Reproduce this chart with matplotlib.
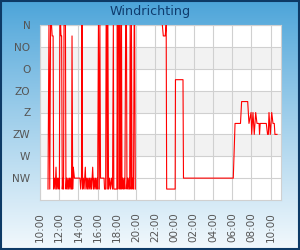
import numpy as np
import matplotlib
matplotlib.use("Agg")
import matplotlib.pyplot as plt
from matplotlib.patches import Rectangle

# minuten na 10:00, richting in graden (0 = N, 22.5-stappen)
minuten = [
    50, 56, 61, 66, 72, 76, 82, 85, 90, 95, 100, 104, 109, 113, 117, 121,
    124, 129, 131, 135, 139, 144, 147, 150, 159, 162, 166, 170, 175, 179,
    184, 188, 192, 197, 200, 204, 208, 215, 250, 254, 259, 262, 266, 270,
    275, 279, 283, 287, 292, 296, 300, 305, 309, 313, 318, 322, 329, 334,
    338, 343, 347, 352, 356, 360, 365, 370, 374, 378, 400, 403, 410, 413,
    417, 420, 424, 428, 434, 440, 446, 453, 458, 461, 480, 483, 486, 489,
    495, 498, 501, 505, 509, 512, 516, 521, 525, 530, 535, 540, 543, 547,
    551, 556, 560, 563, 568, 571, 575, 579, 584, 588, 591, 595,
    600,
    764, 770, 782, 788, 791, 844, 846, 893, 896, 1207, 1218, 1252, 1259,
    1297, 1305, 1318, 1322, 1330, 1338, 1347, 1355, 1368, 1371, 1375, 1413,
    1421, 1426, 1430, 1438, 1447, 1455, 1463, 1467, 1480,
]
richting = [
    337.5, 0, 337.5, 0, 0, 22.5, 22.5, 337.5, 315, 337.5, 292.5, 337.5, 315, 337.5, 315, 337.5,
    0, 0, 22.5, 22.5, 337.5, 315, 337.5, 0, 0, 337.5, 315, 337.5, 315, 337.5,
    315, 337.5, 315, 337.5, 22.5, 337.5, 292.5, 315, 315, 337.5, 315, 0, 337.5, 315,
    337.5, 315, 292.5, 337.5, 315, 337.5, 315, 337.5, 315, 337.5, 315, 337.5, 292.5, 337.5,
    315, 337.5, 315, 337.5, 315, 337.5, 0, 337.5, 0, 315, 315, 337.5, 337.5, 0,
    0, 337.5, 0, 337.5, 315, 337.5, 315, 337.5, 0, 337.5, 337.5, 0, 337.5, 0,
    0, 337.5, 0, 337.5, 0, 337.5, 315, 337.5, 315, 337.5, 0, 0, 337.5, 315,
    337.5, 315, 337.5, 0, 337.5, 0, 337.5, 315, 337.5, 0, 0, 337.5,
    np.nan,
    0, 22.5, 22.5, 0, 337.5, 337.5, 112.5, 112.5, 315, 315, 202.5, 202.5, 157.5,
    157.5, 202.5, 180, 225, 180, 225, 180, 202.5, 202.5, 225, 202.5, 202.5,
    225, 225, 180, 225, 180, 202.5, 202.5, 225, 225,
]

tick_minuten = list(range(0, 1441, 120))
tick_labels = ["10:00", "12:00", "14:00", "16:00", "18:00", "20:00", "22:00",
               "00:00", "02:00", "04:00", "06:00", "08:00", "10:00"]
windstreken = [0, 45, 90, 135, 180, 225, 270, 315]
windstreek_labels = ["N", "NO", "O", "ZO", "Z", "ZW", "W", "NW"]

fig = plt.figure(figsize=(3.0, 2.5), dpi=100)

# achtergrond met verloop
bg = fig.add_axes([0, 0, 1, 1], zorder=-10)
grad = np.linspace(0, 1, 256).reshape(-1, 1)
top = np.array([0.29, 0.64, 0.85])
bot = np.array([0.95, 0.975, 0.99])
img = top + (bot - top) * grad[..., None] ** 0.9
bg.imshow(img.reshape(256, 1, 3), aspect="auto", extent=[0, 1, 0, 1])
bg.set_axis_off()
fig.patches.append(Rectangle((0.003, 0.004), 0.994, 0.992, transform=fig.transFigure,
                             fill=False, edgecolor="#0d3a66", linewidth=1.5))

ax = fig.add_axes([40 / 300, 50 / 250, 241 / 300, 175 / 250])
ax.set_facecolor("white")
for a, b in [(45, 90), (135, 180), (225, 270)]:
    ax.axhspan(a, b, color="#f2f2f2", zorder=0, linewidth=0)

ax.plot(minuten, richting, color="#ff0000", linewidth=0.8, zorder=3)

ax.set_xlim(0, 1505)
ax.set_ylim(360, 0)
ax.set_xticks(tick_minuten)
ax.set_xticklabels(tick_labels, rotation=90, fontsize=7.5, color="#555555")
ax.set_yticks(windstreken)
ax.set_yticklabels(windstreek_labels, fontsize=7.6, color="#555555")
ax.tick_params(length=0)
ax.tick_params(axis="x", pad=9)
ax.tick_params(axis="y", pad=7)
ax.grid(True, color="#d0d0d0", linewidth=0.8, zorder=1)
ax.set_axisbelow(True)
for s in ax.spines.values():
    s.set_color("#d0d0d0")
    s.set_linewidth(0.8)

fig.text(0.5, 1 - 12 / 250, "Windrichting", ha="center", va="center",
         fontsize=9.2, color="#0f3c6e")

fig.savefig("out.png", dpi=100)
